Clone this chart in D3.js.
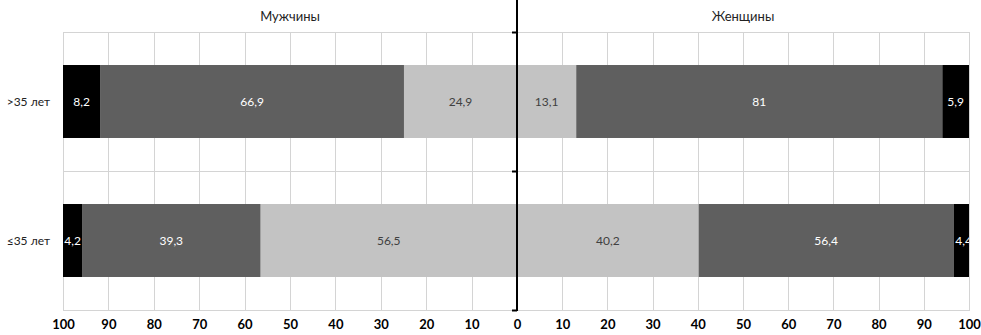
<!DOCTYPE html>
<html>
<head>
<meta charset="utf-8">
<script src="https://cdn.jsdelivr.net/npm/d3@7"></script>
<style>
  body { margin: 0; background: #fff; }
  svg text { font-family: Lato, "Open Sans", sans-serif; }
</style>
</head>
<body>
<div id="chart"></div>
<script>
// categories (top to bottom)
const groups = [">35 лет", "≤35 лет"];
// segment order from the centre outwards
const segments = ["light", "dark", "black"];
// values, %
const menValues = [[24.9, 66.9, 8.2], [56.5, 39.3, 4.2]];
const womenValues = [[13.1, 81, 5.9], [40.2, 56.4, 4.4]];
const menLabels = [["24,9", "66,9", "8,2"], ["56,5", "39,3", "4,2"]];
const womenLabels = [["13,1", "81", "5,9"], ["40,2", "56,4", "4,4"]];
const tickValues = [0, 10, 20, 30, 40, 50, 60, 70, 80, 90, 100];
const sideTitles = ["Мужчины", "Женщины"];

const colors = {light: "#c3c3c3", dark: "#5f5f5f", black: "#000000"};
const textColors = {light: "#404040", dark: "#ffffff", black: "#ffffff"};

const width = 981, height = 335;
const plot = {left: 63, center: 517, right: 969, top: 32, bottom: 310};

const svg = d3.select("#chart").append("svg")
    .attr("width", width)
    .attr("height", height);

// scales
const xMen = d3.scaleLinear().domain([100, 0]).range([plot.left, plot.center]);
const xWomen = d3.scaleLinear().domain([0, 100]).range([plot.center, plot.right]);
const y = d3.scaleBand()
    .domain(groups)
    .range([plot.top, plot.bottom])
    .paddingInner(0.475)
    .paddingOuter(0.2375);

// clip so overflowing bars/labels stop at the plot edge
svg.append("clipPath").attr("id", "plotClip")
    .append("rect")
    .attr("x", plot.left).attr("y", plot.top)
    .attr("width", plot.right - plot.left).attr("height", plot.bottom - plot.top);

// grid
const grid = svg.append("g").attr("stroke", "#d4d4d4").attr("stroke-width", 1);
grid.selectAll(".vm").data(tickValues).enter().append("line")
    .attr("x1", d => Math.round(xMen(d)) + 0.5).attr("x2", d => Math.round(xMen(d)) + 0.5)
    .attr("y1", plot.top).attr("y2", plot.bottom + 1);
grid.selectAll(".vw").data(tickValues).enter().append("line")
    .attr("x1", d => Math.round(xWomen(d)) + 0.5).attr("x2", d => Math.round(xWomen(d)) + 0.5)
    .attr("y1", plot.top).attr("y2", plot.bottom + 1);
const hLines = [plot.top, plot.top + y.step(), plot.bottom];
grid.selectAll(".h").data(hLines).enter().append("line")
    .attr("x1", plot.left).attr("x2", plot.right)
    .attr("y1", d => Math.round(d) + 0.5).attr("y2", d => Math.round(d) + 0.5);

// build segment data
function stackSide(values, labels, scale, side) {
    let out = [];
    values.forEach((row, gi) => {
        let acc = 0;
        row.forEach((v, si) => {
            out.push({
                group: groups[gi], seg: segments[si], label: labels[gi][si],
                x0: scale(acc), x1: scale(acc + v), side: side
            });
            acc += v;
        });
    });
    return out;
}
const bars = stackSide(menValues, menLabels, xMen, "men")
    .concat(stackSide(womenValues, womenLabels, xWomen, "women"));

const barG = svg.append("g").attr("clip-path", "url(#plotClip)");
barG.selectAll("rect").data(bars).enter().append("rect")
    .attr("x", d => Math.min(d.x0, d.x1))
    .attr("width", d => Math.abs(d.x1 - d.x0))
    .attr("y", d => y(d.group))
    .attr("height", y.bandwidth())
    .attr("fill", d => colors[d.seg]);

barG.selectAll("text").data(bars).enter().append("text")
    .attr("x", d => (d.x0 + d.x1) / 2)
    .attr("y", d => y(d.group) + y.bandwidth() / 2)
    .attr("dy", "0.35em")
    .attr("text-anchor", "middle")
    .style("font-size", "12px")
    .attr("fill", d => textColors[d.seg])
    .text(d => d.label);

// centre axis
const axisG = svg.append("g").attr("stroke", "#000");
axisG.append("line")
    .attr("x1", plot.center).attr("x2", plot.center)
    .attr("y1", 0).attr("y2", plot.bottom + 1)
    .attr("stroke-width", 2);
axisG.selectAll(".tk").data(hLines).enter().append("line")
    .attr("x1", plot.center - 5).attr("x2", plot.center)
    .attr("y1", d => Math.round(d) + 0.5).attr("y2", d => Math.round(d) + 0.5)
    .attr("stroke-width", 2);

// category labels
svg.selectAll(".cat").data(groups).enter().append("text")
    .attr("x", 50)
    .attr("y", d => y(d) + y.bandwidth() / 2)
    .attr("dy", "0.35em")
    .attr("text-anchor", "end")
    .style("font-size", "12px")
    .attr("fill", "#222")
    .text(d => d);

// bottom tick labels
const axisMen = d3.axisBottom(xMen).tickValues(tickValues.filter(d => d > 0)).tickSize(0).tickPadding(10);
const axisWomen = d3.axisBottom(xWomen).tickValues(tickValues).tickSize(0).tickPadding(10);
[axisMen, axisWomen].forEach(ax => {
    const g = svg.append("g")
        .attr("transform", `translate(0,${plot.bottom})`)
        .call(ax);
    g.select(".domain").remove();
    g.selectAll("text")
        .style("font-family", "Lato, sans-serif")
        .style("font-size", "13px")
        .style("font-weight", "bold")
        .attr("fill", "#000");
});

// side titles
svg.selectAll(".title").data(sideTitles).enter().append("text")
    .attr("x", (d, i) => i === 0 ? (plot.left + plot.center) / 2 : (plot.center + plot.right) / 2)
    .attr("y", 21)
    .attr("text-anchor", "middle")
    .style("font-size", "13px")
    .attr("fill", "#222")
    .text(d => d);
</script>
</body>
</html>
